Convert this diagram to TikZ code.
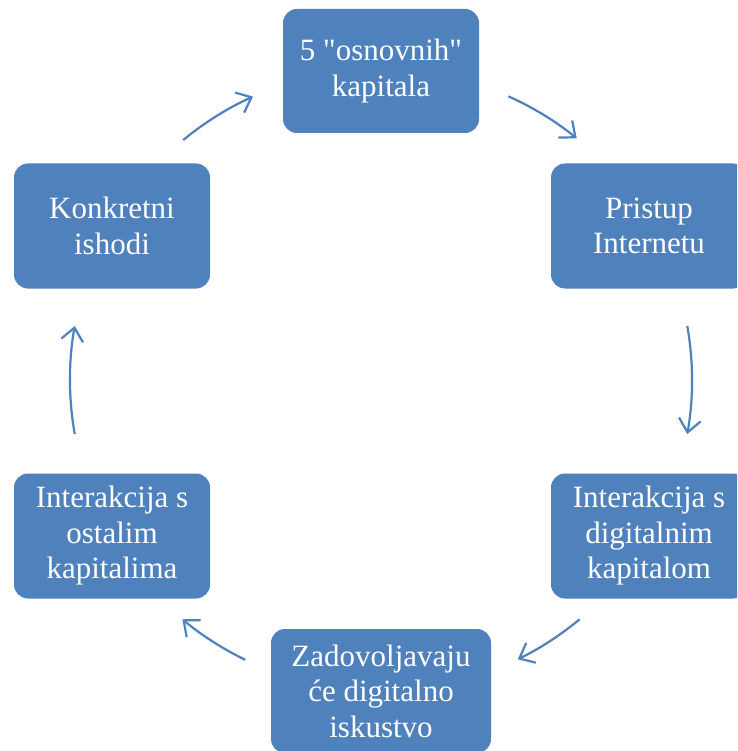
\documentclass[tikz,border=0pt]{standalone}
\usepackage{fontspec}
\setmainfont{Liberation Serif}[Ligatures=TeXOff]
\usetikzlibrary{arrows.meta,calc}
\definecolor{boxblue}{HTML}{4F81BD}
\tikzset{
  x=1pt, y=1pt,
  stepbox/.style={fill=boxblue, draw=none, rounded corners=14pt, text=white,
    align=center, inner sep=0pt,
    font=\fontsize{31}{35.5}\selectfont},
  arr/.style={draw=boxblue, line width=2.2pt,
    -{Straight Barb[length=13pt,width=22pt,line width=2.2pt]}}
}
\begin{document}
\begin{tikzpicture}
\clip (0,0) rectangle (737,-751);
\fill[white] (0,0) rectangle (737,-751);
% boxes
\node[stepbox, minimum width=196pt, minimum height=124pt] (b1) at (381,-71) {5 "osnovnih"\\kapitala};
\node[stepbox, minimum width=196pt, minimum height=125pt] (b2) at (649,-226) {Pristup\\Internetu};
\node[stepbox, minimum width=196pt, minimum height=125pt] (b3) at (649,-536) {Interakcija s\\digitalnim\\kapitalom};
\node[stepbox, minimum width=220pt, minimum height=124pt] (b4) at (381,-691) {Zadovoljavaju\\će digitalno\\iskustvo};
\node[stepbox, minimum width=196pt, minimum height=125pt] (b5) at (112,-536) {Interakcija s\\ostalim\\kapitalima};
\node[stepbox, minimum width=196pt, minimum height=125pt] (b6) at (112,-226) {Konkretni\\ishodi};
% circle centre
\coordinate (c) at (381,-380);
\coordinate (a1) at ($(c)+(129.5:311)$);
\coordinate (a2) at ($(c)+(65.8:311)$);
\coordinate (a3) at ($(c)+(10:311)$);
\coordinate (a4) at ($(c)+(-50.3:311)$);
\coordinate (a5) at ($(c)+(-115.9:311)$);
\coordinate (a6) at ($(c)+(-170:311)$);
\draw[arr] (a1) arc[start angle=129.5, end angle=114.3, radius=311];
\draw[arr] (a2) arc[start angle=65.8, end angle=51, radius=311];
\draw[arr] (a3) arc[start angle=10, end angle=-10, radius=311];
\draw[arr] (a4) arc[start angle=-50.3, end angle=-63.9, radius=311];
\draw[arr] (a5) arc[start angle=-115.9, end angle=-129.7, radius=311];
\draw[arr] (a6) arc[start angle=-170, end angle=-190, radius=311];
\end{tikzpicture}
\end{document}
